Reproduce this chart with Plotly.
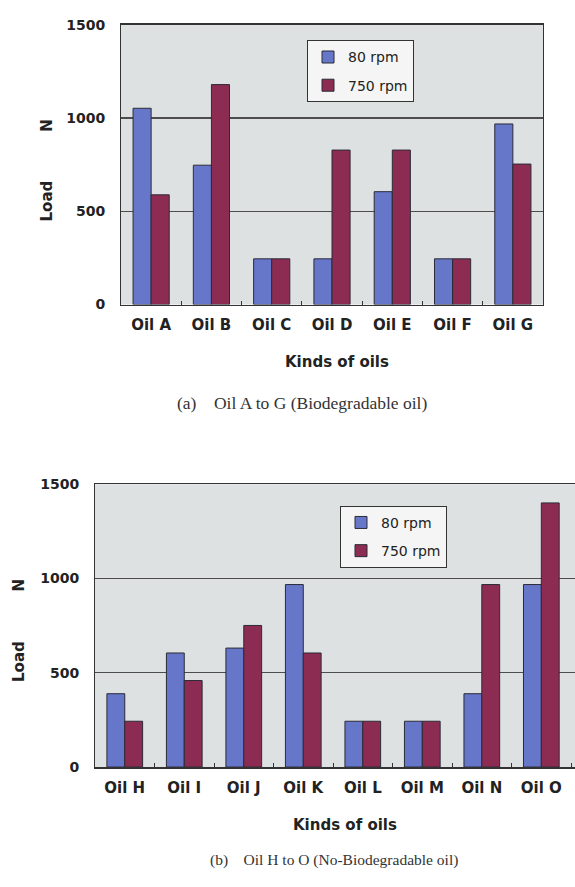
import plotly.graph_objects as go

oils_a = ["Oil A", "Oil B", "Oil C", "Oil D", "Oil E", "Oil F", "Oil G"]
rpm80_a = [1052, 747, 245, 245, 605, 245, 968]
rpm750_a = [588, 1179, 245, 828, 828, 245, 753]

oils_b = ["Oil H", "Oil I", "Oil J", "Oil K", "Oil L", "Oil M", "Oil N", "Oil O"]
rpm80_b = [389, 605, 631, 968, 243, 243, 389, 968]
rpm750_b = [243, 459, 751, 605, 243, 243, 968, 1401]

series_names = ["80 rpm", "750 rpm"]
y_ticks = [0, 500, 1000, 1500]

BLUE = "#6676c9"
RED = "#8d2c52"
OUTLINE = "#2b2b38"
PLOT_BG = "#dee1e2"
FONT = "DejaVu Sans, Liberation Sans, Arial, sans-serif"
SERIF = "Liberation Serif, DejaVu Serif, serif"

W, H = 575, 887
def px(x):
    return x / W
def py(y):
    return 1 - y / H

fig = go.Figure()
for xs, ys80, ys750, xa, ya, lg in [(oils_a, rpm80_a, rpm750_a, "x", "y", "legend"),
                                    (oils_b, rpm80_b, rpm750_b, "x2", "y2", "legend2")]:
    fig.add_trace(go.Bar(x=xs, y=ys80, name=series_names[0], legendgroup="g80" + lg,
                         marker=dict(color=BLUE, line=dict(color=OUTLINE, width=1)),
                         xaxis=xa, yaxis=ya, legend=lg))
    fig.add_trace(go.Bar(x=xs, y=ys750, name=series_names[1], legendgroup="g750" + lg,
                         marker=dict(color=RED, line=dict(color=OUTLINE, width=1)),
                         xaxis=xa, yaxis=ya, legend=lg))

xtickfont = dict(family=FONT, size=15, color="#222222", weight="bold")
ytickfont = dict(family=FONT, size=14, color="#222222", weight="bold")

common_x = dict(type="category", showline=True, linecolor="#333333", linewidth=1.5,
                ticks="inside", ticklen=4, tickcolor="#333333", tickson="boundaries",
                tickfont=xtickfont, showgrid=False, fixedrange=True, ticklabelstandoff=6)
common_y = dict(range=[0, 1500], tickvals=y_ticks, showline=True, linecolor="#333333", linewidth=1,
                showgrid=True, gridcolor="#4d4d4d", gridwidth=1.2, ticks="", ticklabelstandoff=12,
                tickfont=ytickfont, zeroline=False, fixedrange=True)

legend_common = dict(xanchor="left", yanchor="top", bgcolor="#f5f5f5",
                     bordercolor="#333333", borderwidth=1,
                     font=dict(family=FONT, size=14, color="#222222"),
                     itemwidth=30, tracegroupgap=7)

fig.update_layout(
    width=W, height=H,
    margin=dict(l=0, r=0, t=0, b=0),
    paper_bgcolor="white",
    plot_bgcolor=PLOT_BG,
    barmode="group", bargap=0.4, bargroupgap=0,
    font=dict(family=FONT, color="#222222"),
    xaxis=dict(common_x, domain=[px(121), px(543)], anchor="y", mirror=True),
    yaxis=dict(common_y, domain=[py(302), py(17)], anchor="x", mirror=True),
    xaxis2=dict(common_x, domain=[px(95), 1.0], anchor="y2", mirror=True, range=[-0.5, 7.566]),
    yaxis2=dict(common_y, domain=[py(773), py(485)], anchor="x2", mirror=False),
    legend=dict(legend_common, x=px(307), y=py(33)),
    legend2=dict(legend_common, x=px(340), y=py(507)),
    showlegend=True,
)

annotations = [
    dict(text="Kinds of oils", x=px(337), y=py(360), font=dict(family=FONT, size=15, weight="bold")),
    dict(text="(a)&nbsp;&nbsp;&nbsp;&nbsp;Oil A to G (Biodegradable oil)", x=px(302), y=py(402),
         font=dict(family=SERIF, size=17.5, color="#333333")),
    dict(text="Load", x=px(47), y=py(197), textangle=-90, font=dict(family=FONT, size=15, weight="bold")),
    dict(text="N", x=px(47), y=py(120), textangle=-90, font=dict(family=FONT, size=15, weight="bold")),
    dict(text="Kinds of oils", x=px(345), y=py(832), font=dict(family=FONT, size=15, weight="bold")),
    dict(text="(b)&nbsp;&nbsp;&nbsp;&nbsp;Oil H to O (No-Biodegradable oil)", x=px(334), y=py(868),
         font=dict(family=SERIF, size=15.5, color="#333333")),
    dict(text="Load", x=px(19), y=py(666), textangle=-90, font=dict(family=FONT, size=15, weight="bold")),
    dict(text="N", x=px(19), y=py(588), textangle=-90, font=dict(family=FONT, size=15, weight="bold")),
]
for a in annotations:
    a.update(xref="paper", yref="paper", showarrow=False, xanchor="center", yanchor="middle")
    fig.add_annotation(**a)

fig.write_html("out.html", config={"displayModeBar": False, "staticPlot": True},
               post_script="document.body.style.margin='0';document.body.style.overflow='hidden';")
